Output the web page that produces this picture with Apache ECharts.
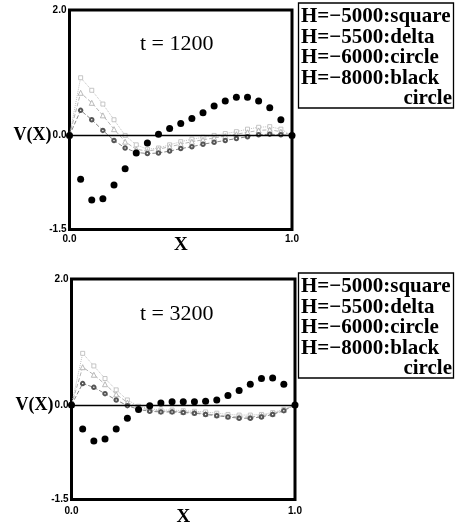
<!DOCTYPE html>
<html>
<head>
<meta charset="utf-8">
<script src="https://cdn.jsdelivr.net/npm/echarts@6/dist/echarts.min.js"></script>
<style>html,body{margin:0;padding:0;background:#fff}#c{width:459px;height:530px}</style>
</head>
<body>
<div id="c"></div>
<script>
// ---- data ----
const xs = [0, 0.05, 0.10, 0.15, 0.20, 0.25, 0.30, 0.35, 0.40, 0.45, 0.50, 0.55, 0.60, 0.65, 0.70, 0.75, 0.80, 0.85, 0.90, 0.95, 1.00];
const panelTitles = ['t = 1200', 't = 3200'];
const legendLines = ['H=\u22125000:square', 'H=\u22125500:delta', 'H=\u22126000:circle', 'H=\u22128000:black', 'circle'];
const yTickLabels = [2.0, 0.0, -1.5];
const xTickLabels = [0.0, 1.0];

// t = 1200
const sq1200 = [0, 0.92, 0.72, 0.50, 0.25, 0.00, -0.15, -0.22, -0.20, -0.15, -0.10, -0.06, -0.03, 0.00, 0.03, 0.06, 0.10, 0.13, 0.14, 0.10, 0];
const de1200 = [0, 0.68, 0.52, 0.32, 0.10, -0.10, -0.22, -0.25, -0.22, -0.18, -0.14, -0.10, -0.07, -0.04, -0.01, 0.02, 0.05, 0.08, 0.09, 0.06, 0];
const ci1200 = [0, 0.40, 0.25, 0.08, -0.08, -0.20, -0.27, -0.29, -0.28, -0.25, -0.21, -0.18, -0.14, -0.11, -0.08, -0.05, -0.02, 0.01, 0.02, 0.01, 0];
const bk1200 = [0, -0.70, -1.03, -1.01, -0.79, -0.53, -0.28, -0.12, 0.02, 0.11, 0.19, 0.27, 0.36, 0.47, 0.55, 0.61, 0.61, 0.55, 0.44, 0.25, 0];
// t = 3200
const sq3200 = [0, 0.82, 0.62, 0.42, 0.24, 0.08, -0.02, -0.06, -0.08, -0.08, -0.09, -0.10, -0.11, -0.13, -0.15, -0.16, -0.16, -0.15, -0.12, -0.07, 0];
const de3200 = [0, 0.60, 0.48, 0.33, 0.17, 0.04, -0.04, -0.08, -0.10, -0.10, -0.11, -0.12, -0.14, -0.16, -0.18, -0.19, -0.19, -0.17, -0.14, -0.08, 0];
const ci3200 = [0, 0.34, 0.28, 0.18, 0.08, -0.01, -0.07, -0.10, -0.11, -0.11, -0.12, -0.13, -0.15, -0.17, -0.19, -0.21, -0.21, -0.19, -0.15, -0.09, 0];
const bk3200 = [0, -0.38, -0.57, -0.54, -0.38, -0.21, -0.07, -0.01, 0.03, 0.05, 0.05, 0.05, 0.06, 0.08, 0.15, 0.23, 0.33, 0.42, 0.43, 0.33, 0];

const panels = [
  {sq: sq1200, de: de1200, ci: ci1200, bk: bk1200},
  {sq: sq3200, de: de3200, ci: ci3200, bk: bk3200}
];

// ---- layout ----
const grids = [
  {left: 69.5, top: 10, width: 222.5, height: 219.5},
  {left: 71.5, top: 279, width: 223.5, height: 220.5}
];
const legendTops = [3, 273];
const SERIF = '"Liberation Serif","DejaVu Serif",serif';
const SANS = '"Liberation Sans",Arial,sans-serif';

const pair = v => xs.map((x, i) => [x, v[i]]);

const option = {
  animation: false,
  backgroundColor: '#fff',
  title: panelTitles.map((t, i) => ({
    text: t,
    left: 140,
    top: i === 0 ? 33 : 303,
    padding: 0,
    textStyle: {fontFamily: SERIF, fontWeight: 'normal', fontSize: 22, color: '#000'}
  })),
  grid: grids.map(g => Object.assign({
    show: true, borderColor: '#000', borderWidth: 3, backgroundColor: 'transparent',
    containLabel: false, outerBoundsMode: 'none'
  }, g)),
  xAxis: grids.map((g, i) => ({
    type: 'value', gridIndex: i, min: 0, max: 1, interval: 1,
    name: 'X', nameLocation: 'middle', nameGap: i === 0 ? 6 : 8,
    nameMoveOverlap: false,
    nameTextStyle: {fontFamily: SERIF, fontWeight: 'bold', fontSize: 19, color: '#000'},
    axisLine: {show: false}, axisTick: {show: false}, splitLine: {show: false},
    axisLabel: {
      margin: i === 0 ? 5 : 7,
      fontFamily: SANS, fontWeight: 'bold', fontSize: 10, color: '#000',
      formatter: v => xTickLabels.some(t => Math.abs(t - v) < 1e-9) ? v.toFixed(1) : ''
    }
  })),
  yAxis: grids.map((g, i) => ({
    type: 'value', gridIndex: i, min: -1.5, max: 2.0, interval: 0.5,
    axisLine: {show: false}, axisTick: {show: false}, splitLine: {show: false},
    axisLabel: {
      margin: 3,
      fontFamily: SANS, fontWeight: 'bold', fontSize: 10, color: '#000',
      formatter: v => {
        if (!yTickLabels.some(t => Math.abs(t - v) < 1e-9)) return '';
        if (Math.abs(v) < 1e-9) return '{v|V(X)}{s|0.0}';
        return v.toFixed(1);
      },
      rich: {
        v: {fontFamily: SERIF, fontWeight: 'bold', fontSize: 18, color: '#000', padding: [0, 1, 0, 0]},
        s: {fontFamily: SANS, fontWeight: 'bold', fontSize: 10, color: '#000'}
      }
    }
  })),
  series: [],
  graphic: []
};

panels.forEach((p, i) => {
  const common = {type: 'line', xAxisIndex: i, yAxisIndex: i, silent: true};
  option.series.push(Object.assign({}, common, {
    name: 'square' + i, data: pair(p.sq), symbol: 'rect', symbolSize: 4,
    lineStyle: {color: '#c0c0c0', width: 1, type: 'dotted'},
    itemStyle: {color: '#fff', borderColor: '#b8b8b8', borderWidth: 0.8}
  }));
  option.series.push(Object.assign({}, common, {
    name: 'delta' + i, data: pair(p.de), symbol: 'triangle', symbolSize: 5,
    lineStyle: {color: '#b5b5b5', width: 1, type: 'dashed'},
    itemStyle: {color: '#fff', borderColor: '#aaaaaa', borderWidth: 0.8}
  }));
  option.series.push(Object.assign({}, common, {
    name: 'circle' + i, data: pair(p.ci), symbol: 'emptyCircle', symbolSize: 3.5,
    lineStyle: {color: '#888', width: 1, type: 'dashed'},
    itemStyle: {color: '#555', borderColor: '#555', borderWidth: 1}
  }));
  option.series.push(Object.assign({}, common, {
    name: 'black' + i, data: pair(p.bk), symbol: 'circle', symbolSize: 7,
    lineStyle: {width: 0, opacity: 0},
    itemStyle: {color: '#000'}, z: 5,
    markLine: {
      silent: true, symbol: 'none', label: {show: false},
      lineStyle: {color: '#000', width: 1.3, type: 'solid'},
      data: [{yAxis: 0}]
    }
  }));

  const top = legendTops[i];
  option.graphic.push({
    type: 'rect', shape: {x: 298.5, y: top, width: 155, height: 105},
    style: {fill: '#fff', stroke: '#000', lineWidth: 1.3}
  });
  legendLines.forEach((t, k) => {
    const last = k === legendLines.length - 1;
    option.graphic.push({
      type: 'text',
      x: last ? 452 : 301,
      y: top + 14 + 20.5 * k,
      style: {
        text: t, fill: '#000',
        font: 'bold 21px ' + SERIF,
        textAlign: last ? 'right' : 'left',
        textVerticalAlign: 'middle'
      }
    });
  });
});

const chart = echarts.init(document.getElementById('c'), null, {renderer: 'canvas'});
chart.setOption(option);
</script>
</body>
</html>
